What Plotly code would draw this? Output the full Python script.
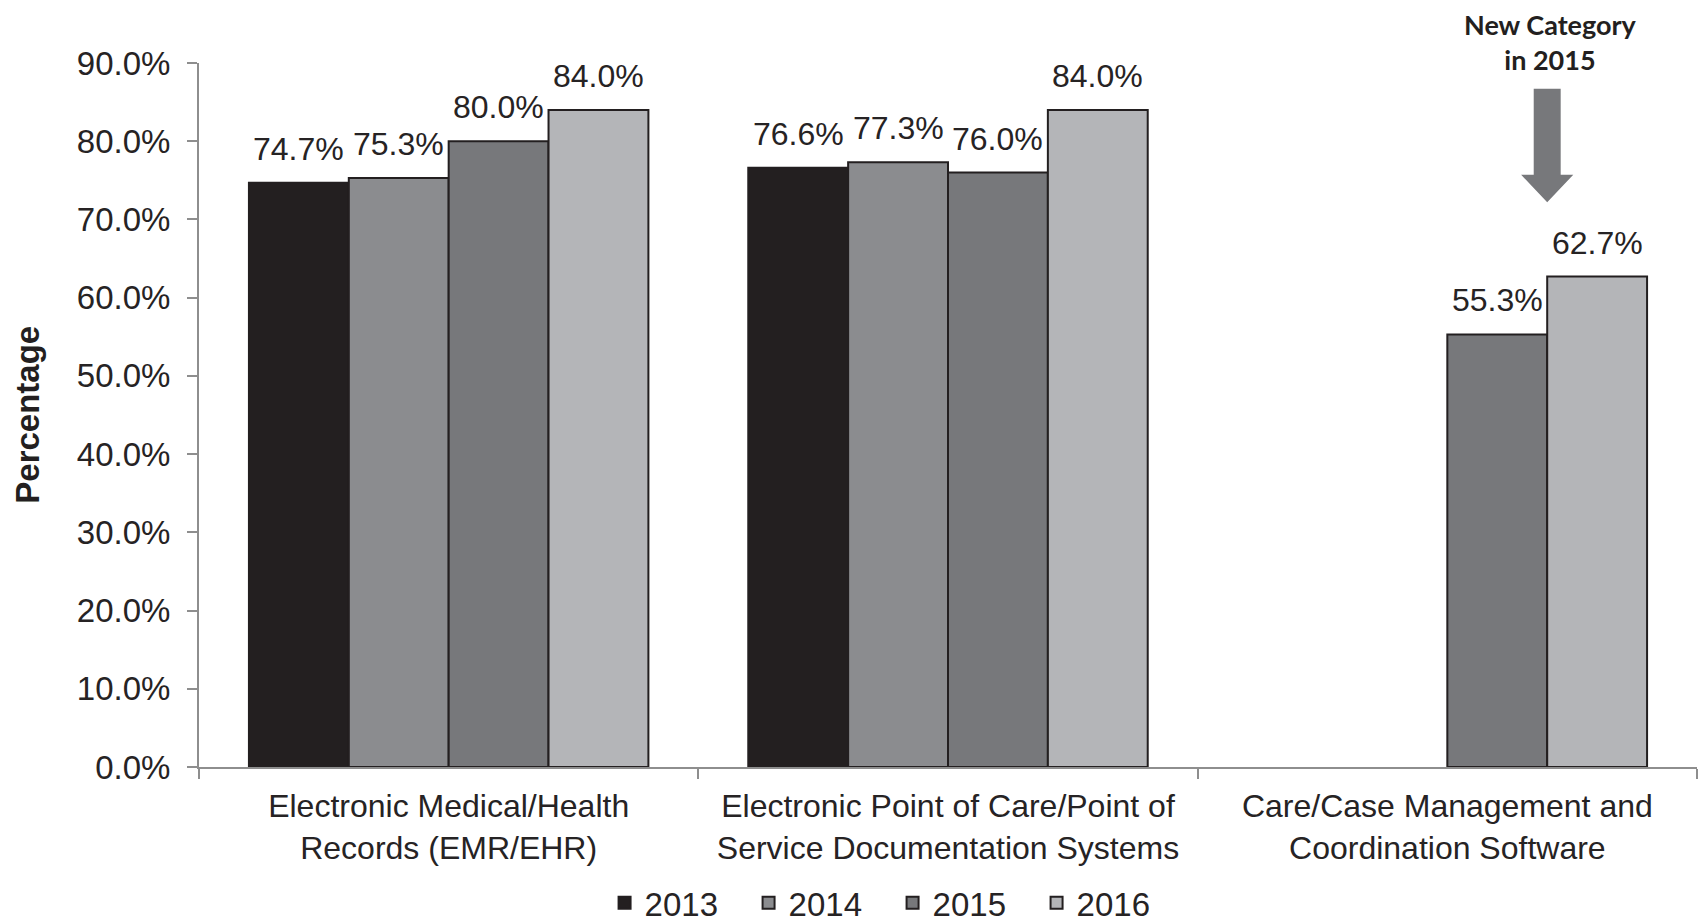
import plotly.graph_objects as go

categories = [
    "Electronic Medical/Health<br>Records (EMR/EHR)",
    "Electronic Point of Care/Point of<br>Service Documentation Systems",
    "Care/Case Management and<br>Coordination Software",
]
years = ["2013", "2014", "2015", "2016"]
values_2013 = [74.7, 76.6, None]
values_2014 = [75.3, 77.3, None]
values_2015 = [80.0, 76.0, 55.3]
values_2016 = [84.0, 84.0, 62.7]
y_ticks = [0, 10, 20, 30, 40, 50, 60, 70, 80, 90]

series = [values_2013, values_2014, values_2015, values_2016]
colors = ["#231f20", "#8b8c8f", "#77787b", "#b4b5b8"]

FONT = "Liberation Sans, Arial, sans-serif"
TXT = "#262324"
BAR_GAP = 0.2
BAR_W = (1 - BAR_GAP) / len(years)

fig = go.Figure()
for i, (year, vals, col) in enumerate(zip(years, series, colors)):
    fig.add_trace(go.Bar(
        name=year,
        x=categories,
        y=vals,
        marker=dict(color=col, line=dict(color="#231f20", width=2)),
    ))
    # value labels above each bar
    for c, v in enumerate(vals):
        if v is None:
            continue
        fig.add_annotation(
            x=c + (i - (len(years) - 1) / 2) * BAR_W, y=v,
            xref="x", yref="y", text=f"{v:.1f}%", showarrow=False,
            xanchor="center", yanchor="bottom", yshift=14,
            font=dict(family=FONT, size=32, color=TXT),
        )

# block arrow marking the category introduced in 2015
ax_c = (2 + BAR_W + 0.5) / 3
shaft, head = 0.009, 0.0174
y_top, y_neck, y_tip = 86.7, 75.7, 72.2
arrow_path = (
    f"M {ax_c - shaft},{y_top} L {ax_c + shaft},{y_top} L {ax_c + shaft},{y_neck} "
    f"L {ax_c + head},{y_neck} L {ax_c},{y_tip} L {ax_c - head},{y_neck} "
    f"L {ax_c - shaft},{y_neck} Z"
)
fig.add_shape(type="path", path=arrow_path, xref="x domain", yref="y",
              fillcolor="#77787b", line=dict(width=0))
fig.add_annotation(
    text="<b>New Category<br>in 2015</b>",
    xref="x domain", yref="paper", x=ax_c + 0.002, y=1.03, yanchor="middle",
    xanchor="center", showarrow=False,
    font=dict(family="Lato, Open Sans, sans-serif", size=27, color="#231f20"),
)

# y-axis title
fig.add_annotation(
    text="<b>Percentage</b>", xref="paper", yref="paper",
    x=-0.115, y=0.5, xanchor="center", yanchor="middle",
    textangle=-90, showarrow=False,
    font=dict(family=FONT, size=33, color="#231f20"),
)

fig.update_layout(
    width=1702, height=923,
    margin=dict(l=199, r=5, t=63, b=156, autoexpand=False),
    paper_bgcolor="white", plot_bgcolor="white",
    barmode="group", bargap=BAR_GAP, bargroupgap=0,
    font=dict(family=FONT, size=33, color=TXT),
    legend=dict(
        orientation="h", x=0.463, xanchor="center", y=-0.193, yanchor="middle",
        font=dict(family=FONT, size=33, color=TXT),
        entrywidth=99, entrywidthmode="pixels",
        itemclick=False,
    ),
    xaxis=dict(
        type="category", tickson="boundaries", ticks="outside", ticklen=10,
        tickcolor="#8e8e8e", tickwidth=2,
        showline=True, linecolor="#8e8e8e", linewidth=2,
        showgrid=False, range=[-0.5, 2.5],
        ticklabelstandoff=10,
        tickfont=dict(family=FONT, size=32, color=TXT),
    ),
    yaxis=dict(
        range=[0, 90], tickvals=y_ticks,
        ticktext=[f"{v:.1f}%" for v in y_ticks],
        ticks="outside", ticklen=10, tickcolor="#8e8e8e", tickwidth=2,
        showline=True, linecolor="#8e8e8e", linewidth=2,
        showgrid=False, zeroline=False,
        ticklabelstandoff=10,
        tickfont=dict(family=FONT, size=33, color=TXT),
    ),
)

fig.write_html("out.html")
